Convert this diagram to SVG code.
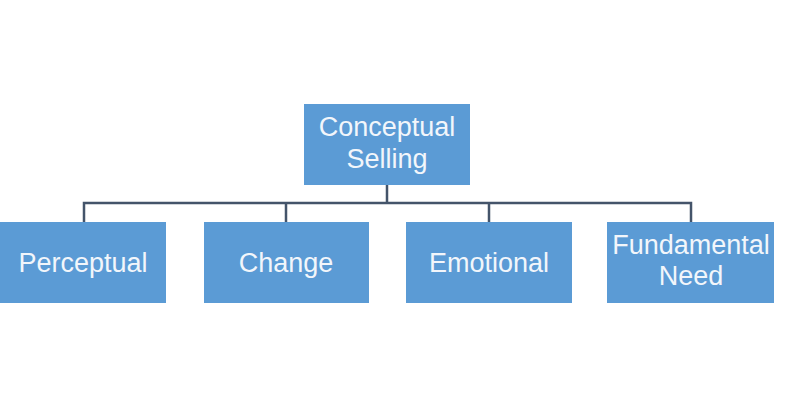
<svg xmlns="http://www.w3.org/2000/svg" width="800" height="401" viewBox="0 0 800 401">
<style>
.box{fill:#5b9bd5;}
.lbl{font-family:"Liberation Sans",Arial,sans-serif;font-size:27px;fill:#f2f6fb;text-anchor:middle;}
.con{stroke:#44546a;stroke-width:2.5;fill:none;}
</style>
<rect width="800" height="401" fill="#ffffff"/>
<g id="connectors">
<path class="con" d="M387 185V203M84 222V203H691V222M286 203V222M489 203V222"/>
</g>
<g id="conceptual-selling">
<rect class="box" x="304" y="104" width="166" height="81"/>
<text class="lbl" x="387" y="136">Conceptual</text>
<text class="lbl" x="387" y="168">Selling</text>
</g>
<g id="perceptual">
<rect class="box" x="0" y="222" width="166" height="81"/>
<text class="lbl" x="83" y="272">Perceptual</text>
</g>
<g id="change">
<rect class="box" x="204" y="222" width="165" height="81"/>
<text class="lbl" x="286" y="272">Change</text>
</g>
<g id="emotional">
<rect class="box" x="406" y="222" width="166" height="81"/>
<text class="lbl" x="489" y="272">Emotional</text>
</g>
<g id="fundamental-need">
<rect class="box" x="607" y="222" width="167" height="81"/>
<text class="lbl" x="691" y="254">Fundamental</text>
<text class="lbl" x="691" y="285">Need</text>
</g>
</svg>
